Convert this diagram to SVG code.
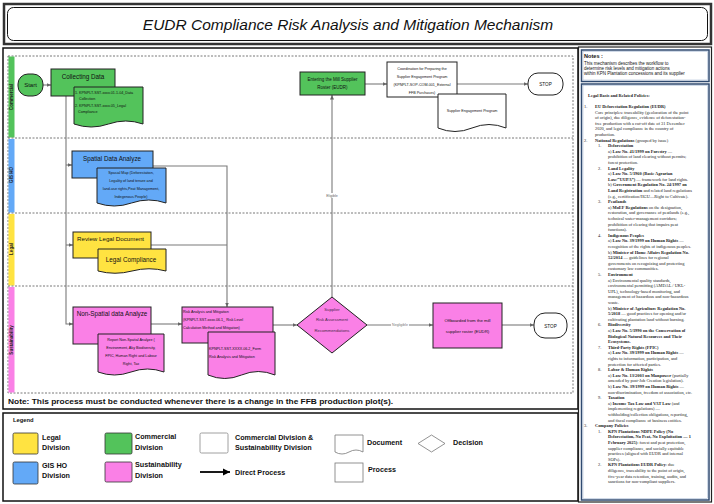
<svg xmlns="http://www.w3.org/2000/svg" width="714" height="504" viewBox="0 0 714 504">
<defs>
<marker id="ah" markerWidth="5" markerHeight="5" refX="4.5" refY="2.5" orient="auto" markerUnits="userSpaceOnUse"><path d="M0,0.5 L4.5,2.5 L0,4.5 Z" fill="#666"/></marker>
<marker id="ahb" markerWidth="8" markerHeight="8" refX="7" refY="4" orient="auto" markerUnits="userSpaceOnUse"><path d="M0,0.5 L7,4 L0,7.5 Z" fill="#000"/></marker>
<style>
.t{font-family:"Liberation Sans",Arial,sans-serif;fill:#111}
.c{text-anchor:middle}
.bx{stroke:#222;stroke-width:1}
.g{fill:#53c35b}.b{fill:#63a9f7}.y{fill:#ffe341}.p{fill:#fa80e6}.w{fill:#fff}
.cn{fill:none;stroke:#7a7a7a;stroke-width:1.1}
.dash{fill:none;stroke:#555;stroke-width:0.8;stroke-dasharray:2 1.5}
.lg{font-family:"Liberation Sans",Arial,sans-serif;font-weight:bold;font-size:7.2px;fill:#111}
.n{font-family:"Liberation Serif","Times New Roman",serif;font-size:4.4px;fill:#222}
.nb{font-weight:bold}
.lane{font-family:"Liberation Sans",Arial,sans-serif;font-weight:bold;font-size:4.5px;fill:#222;text-anchor:middle}
</style>
</defs>

<!-- title -->
<g id="title">
<rect x="4" y="4" width="707" height="40" fill="#fff" stroke="#333" stroke-width="2.5"/>
<rect x="7.5" y="7.5" width="700" height="33" rx="6" fill="#fff" stroke="#111" stroke-width="1"/>
<text x="348" y="30" class="t c" font-size="15.5" font-style="italic">EUDR Compliance Risk Analysis and Mitigation Mechanism</text>
</g>

<!-- main frame and lanes -->
<g id="frame">
<rect x="3" y="48" width="575" height="361" fill="#fff" stroke="#111" stroke-width="1.5"/>
<rect x="8" y="56" width="565" height="337" class="dash"/>
<rect x="8.5" y="56.5" width="6" height="81" fill="#53c35b"/>
<rect x="8.5" y="139" width="6" height="73.5" fill="#63a9f7"/>
<rect x="8.5" y="214" width="6" height="71.5" fill="#ffe341"/>
<rect x="8.5" y="287" width="6" height="105.5" fill="#fa80e6"/>
<line x1="8" y1="138" x2="573" y2="138" class="dash"/>
<line x1="8" y1="213" x2="573" y2="213" class="dash"/>
<line x1="8" y1="286" x2="573" y2="286" class="dash"/>
<text class="lane" transform="translate(13,97) rotate(-90)">Commercial</text>
<text class="lane" transform="translate(13,175) rotate(-90)">GIS HO</text>
<text class="lane" transform="translate(13,249) rotate(-90)">Legal</text>
<text class="lane" transform="translate(13,340) rotate(-90)">Sustainability</text>
<text x="8" y="404" class="t" font-size="7.5" font-weight="bold" textLength="385" lengthAdjust="spacingAndGlyphs">Note: This process must be conducted whenever there is a change in the FFB production plot(s).</text>
</g>

<!-- connectors -->
<g id="connectors">
<line x1="43" y1="85" x2="51" y2="85" class="cn" marker-end="url(#ah)"/>
<path d="M66,96 V324 H73" class="cn" marker-end="url(#ah)"/>
<path d="M66,165 H72" class="cn" marker-end="url(#ah)"/>
<path d="M66,245 H73" class="cn" marker-end="url(#ah)"/>
<path d="M153,166 H227 V307" class="cn" marker-end="url(#ah)"/>
<path d="M151,245 H227" class="cn"/>
<line x1="151" y1="324" x2="182" y2="324" class="cn" marker-end="url(#ah)"/>
<line x1="273" y1="325" x2="297" y2="325" class="cn" marker-end="url(#ah)"/>
<line x1="332" y1="297" x2="332" y2="95" class="cn" marker-end="url(#ah)"/>
<line x1="367" y1="325" x2="433" y2="325" class="cn" marker-end="url(#ah)"/>
<line x1="502" y1="325" x2="534" y2="325" class="cn" marker-end="url(#ah)"/>
<line x1="365" y1="84" x2="387" y2="84" class="cn" marker-end="url(#ah)"/>
<line x1="457" y1="84" x2="528" y2="84" class="cn" marker-end="url(#ah)"/>
<rect x="325" y="193" width="14" height="5" fill="#fff"/>
<text x="332" y="197" class="t c" font-size="3.6" fill="#666" style="fill:#666">Eligible</text>
<rect x="391" y="323" width="18" height="4" fill="#fff"/>
<text x="400" y="326.3" class="t c" font-size="3.6" style="fill:#777">Negligible</text>
</g>

<!-- nodes -->
<g id="start">
<rect x="18" y="74" width="25" height="22" rx="10" class="bx g"/>
<text x="30.5" y="87" class="t c" font-size="6">Start</text>
</g>

<g id="collecting-data">
<rect x="51" y="69" width="64" height="27" class="bx g"/>
<text x="83" y="79" class="t c" font-size="6.3">Collecting Data</text>
</g>
<g id="doc-collecting">
<path d="M74,87 H143 V124 Q125.75,118 108.5,124 T74,124 Z" class="bx g"/>
<text x="75" y="94" class="t" font-size="3.7">1. KPNPLT-SST-xxxx.01.1-04_Data</text>
<text x="79" y="100" class="t" font-size="3.7">Collection</text>
<text x="75" y="107" class="t" font-size="3.7">2. KPNPLT-SST-xxxx.05_Legal</text>
<text x="78" y="113" class="t" font-size="3.7">Compliance</text>
</g>

<g id="spatial-analyze">
<rect x="72" y="151" width="81" height="27" class="bx b"/>
<text x="112" y="161" class="t c" font-size="6.3">Spatial Data Analyze</text>
</g>
<g id="doc-spatial">
<path d="M97,168 H166 V203 Q148.75,197 131.5,203 T97,203 Z" class="bx b"/>
<text x="131" y="173.5" class="t c" font-size="3.7">Spasial Map (Deforestation,</text>
<text x="131" y="181.5" class="t c" font-size="3.7">Legality of land tenure and</text>
<text x="131" y="189.5" class="t c" font-size="3.7">land-use rights,Peat Management,</text>
<text x="131" y="197.5" class="t c" font-size="3.7">Indegenous People)</text>
</g>

<g id="review-legal">
<rect x="73" y="232" width="78" height="26" class="bx y"/>
<text x="77" y="241" class="t" font-size="6.2">Review Legal Document</text>
</g>
<g id="doc-legal">
<path d="M98,249 H166 V271 Q149,266.5 132,271 T98,271 Z" class="bx y"/>
<text x="131" y="262" class="t c" font-size="6.3">Legal Compliance</text>
</g>

<g id="non-spatial">
<rect x="73" y="307" width="78" height="37" class="bx p"/>
<text x="112" y="316" class="t c" font-size="6.3">Non-Spatial data Analyze</text>
</g>
<g id="doc-non-spatial">
<path d="M98,334 H164 V372 Q147.5,366 131,372 T98,372 Z" class="bx p"/>
<text x="131" y="340.5" class="t c" font-size="3.7">Report Non-Spatial Analyze (</text>
<text x="131" y="348.5" class="t c" font-size="3.7">Environment, Aky Biodiversity,</text>
<text x="131" y="356.5" class="t c" font-size="3.7">FPIC, Human Right and Labour</text>
<text x="131" y="364.5" class="t c" font-size="3.7">Right, Tax</text>
</g>

<g id="risk-analysis">
<rect x="182" y="307" width="91" height="36" class="bx p"/>
<text x="183" y="312.5" class="t" font-size="3.7">Risk Analysis and Mitigation</text>
<text x="183" y="320.5" class="t" font-size="3.7">(KPNPLT-SST-xxxx.06.1_ Risk Level</text>
<text x="183" y="328.5" class="t" font-size="3.7">Calculation Method and Mitigation)</text>
</g>
<g id="doc-risk">
<path d="M208,332 H275 V375 Q258.25,368 241.5,375 T208,375 Z" class="bx p"/>
<text x="209" y="350" class="t" font-size="3.7">KPNPLT-SST-XXXX.06.2_Form</text>
<text x="209" y="358" class="t" font-size="3.7">Risk Analysis and Mitigation</text>
</g>

<g id="decision">
<path d="M332,297 L367,325 L332,353 L297,325 Z" class="bx p"/>
<text x="332" y="310.5" class="t c" font-size="4.2" style="fill:#4a2a4a">Supplier</text>
<text x="332" y="321" class="t c" font-size="4.2" style="fill:#4a2a4a">Risk Assessment</text>
<text x="332" y="331.5" class="t c" font-size="4.2" style="fill:#4a2a4a">Recommendations</text>
</g>

<g id="offboarded">
<rect x="433" y="303" width="69" height="45" class="bx p"/>
<text x="467.5" y="322" class="t c" font-size="4.3">Offboarded from the mill</text>
<text x="467.5" y="333" class="t c" font-size="4.3">supplier roster (EUDR)</text>
</g>

<g id="stop-bottom">
<rect x="534" y="313" width="33" height="25" rx="11" class="bx w"/>
<text x="550.5" y="327.5" class="t c" font-size="4.6">STOP</text>
</g>

<g id="entering-roster">
<rect x="300" y="72" width="65" height="23" class="bx g"/>
<text x="332.5" y="80.5" class="t c" font-size="4.5">Entering the Mill Supplier</text>
<text x="332.5" y="89" class="t c" font-size="4.5">Roster (EUDR)</text>
</g>

<g id="coordination">
<rect x="387" y="62" width="70" height="35" class="bx w"/>
<text x="422" y="70" class="t c" font-size="3.7">Coordination for Preparing the</text>
<text x="422" y="78" class="t c" font-size="3.7">Supplier Engagement Program</text>
<text x="422" y="86" class="t c" font-size="3.7">(KPNPLT-SOP-COM-001_External</text>
<text x="422" y="94" class="t c" font-size="3.7">FFB Purchases)</text>
</g>
<g id="doc-engagement">
<path d="M438,94 H506 V128 Q489,121 472,128 T438,128 Z" class="bx w"/>
<text x="472" y="111.5" class="t c" font-size="3.7">Supplier Engagement Program</text>
</g>

<g id="stop-top">
<rect x="528" y="73" width="35" height="22" rx="10" class="bx w"/>
<text x="545.5" y="85.8" class="t c" font-size="4.6">STOP</text>
</g>

<!-- legend -->
<g id="legend">
<rect x="3" y="413" width="575" height="88" fill="#fff" stroke="#111" stroke-width="1.5"/>
<text x="13" y="422" class="t" font-size="5.8" font-weight="bold">Legend</text>
<rect x="13" y="433" width="25" height="21" rx="1.5" fill="#ffe341" stroke="#333" stroke-width="0.8"/>
<text x="42" y="440" class="lg">Legal</text><text x="42" y="450" class="lg">Division</text>
<rect x="13" y="462" width="25" height="22" rx="1.5" fill="#63a9f7" stroke="#333" stroke-width="0.8"/>
<text x="42" y="468" class="lg">GIS HO</text><text x="42" y="478" class="lg">Division</text>
<rect x="105" y="433" width="27" height="21" rx="1.5" fill="#53c35b" stroke="#333" stroke-width="0.8"/>
<text x="135" y="439" class="lg">Commercial</text><text x="135" y="450" class="lg">Division</text>
<rect x="105" y="462" width="27" height="20" rx="1.5" fill="#fa80e6" stroke="#333" stroke-width="0.8"/>
<text x="135" y="467" class="lg">Sustainability</text><text x="135" y="478" class="lg">Division</text>
<rect x="200" y="433" width="28" height="20" rx="1.5" fill="#fff" stroke="#888" stroke-width="0.8"/>
<text x="235" y="440" class="lg">Commercial Division &amp;</text><text x="235" y="450" class="lg">Sustainability Division</text>
<line x1="200" y1="472" x2="230" y2="472" stroke="#000" stroke-width="1.8" marker-end="url(#ahb)"/>
<text x="235" y="474.5" class="lg">Direct Process</text>
<path d="M335,435 H363 V452 Q356,448 349,452 T335,452 Z" fill="#fff" stroke="#777" stroke-width="0.8"/>
<text x="367" y="445" class="lg">Document</text>
<path d="M431.5,435 L445,443.5 L431.5,452 L418,443.5 Z" fill="#fff" stroke="#777" stroke-width="0.8"/>
<text x="453" y="445" class="lg">Decision</text>
<rect x="335" y="463" width="28" height="19" fill="#fff" stroke="#777" stroke-width="0.8"/>
<text x="368" y="472" class="lg">Process</text>
</g>

<!-- notes panel -->
<g id="notes">
<rect x="578.5" y="47" width="133" height="455" fill="#fff" stroke="#222" stroke-width="1.2"/>
<rect x="581.5" y="50" width="127.5" height="31.5" fill="#fff" stroke="#2f4a70" stroke-width="1.5"/>
<rect x="583" y="51.5" width="124.5" height="28.5" fill="none" stroke="#9fb3cf" stroke-width="0.5"/>
<text x="584" y="58" class="t" font-size="5.6" font-weight="bold">Notes :</text>
<text x="584" y="65" class="t" font-size="4.5">This mechanism describes the workflow to</text>
<text x="584" y="70" class="t" font-size="4.5">determine risk levels and mitigation actions</text>
<text x="584" y="75" class="t" font-size="4.5">within KPN Plantation concessions and its supplier</text>
<rect x="581.5" y="84" width="127.5" height="416" fill="#fff" stroke="#2f4a70" stroke-width="1.5"/>
<rect x="583" y="85.5" width="124.5" height="413" fill="none" stroke="#9fb3cf" stroke-width="0.5"/>
<text x="588" y="97" class="n nb" font-size="4.6">Legal Basis and Related Policies:</text>

<text class="n" x="584" y="108">1.</text><text class="n nb" x="595" y="108">EU Deforestation Regulation (EUDR)</text>
<text class="n" x="595" y="113.6">Core principles: traceability (geolocation of the point</text>
<text class="n" x="595" y="119.2">of origin), due diligence, evidence of deforestation-</text>
<text class="n" x="595" y="124.8">free production with a cut-off date of 31 December</text>
<text class="n" x="595" y="130.4">2020, and legal compliance in the country of</text>
<text class="n" x="595" y="136">production.</text>
<text class="n" x="584" y="141.6">2.</text><text class="n" x="595" y="141.6"><tspan class="nb">National Regulations</tspan> (grouped by issue)</text>
<text class="n" x="598" y="147.2">1.</text><text class="n nb" x="608" y="147.2">Deforestation</text>
<text class="n" x="608" y="152.8">a) <tspan class="nb">Law No. 41/1999 on Forestry</tspan> —</text>
<text class="n" x="608" y="158.4">prohibition of land clearing without permits;</text>
<text class="n" x="608" y="164">forest protection.</text>
<text class="n" x="598" y="169.6">2.</text><text class="n nb" x="608" y="169.6">Land Legality</text>
<text class="n" x="608" y="175.2">a) <tspan class="nb">Law No. 5/1960 (Basic Agrarian</tspan></text>
<text class="n" x="608" y="180.8"><tspan class="nb">Law/“UUPA”)</tspan> — framework for land rights.</text>
<text class="n" x="608" y="186.4">b) <tspan class="nb">Government Regulation No. 24/1997 on</tspan></text>
<text class="n" x="608" y="192"><tspan class="nb">Land Registration</tspan> and related land regulations</text>
<text class="n" x="608" y="197.6">(e.g., certification/HGU—Right to Cultivate).</text>
<text class="n" x="598" y="203.2">3.</text><text class="n nb" x="608" y="203.2">Peatlands</text>
<text class="n" x="608" y="208.8">a) <tspan class="nb">MoEF Regulations</tspan> on the designation,</text>
<text class="n" x="608" y="214.4">restoration, and governance of peatlands (e.g.,</text>
<text class="n" x="608" y="220">technical water-management corridors;</text>
<text class="n" x="608" y="225.6">prohibition of clearing that impairs peat</text>
<text class="n" x="608" y="231.2">functions).</text>
<text class="n" x="598" y="236.8">4.</text><text class="n nb" x="608" y="236.8">Indigenous Peoples</text>
<text class="n" x="608" y="242.4">a) <tspan class="nb">Law No. 39/1999 on Human Rights</tspan> —</text>
<text class="n" x="608" y="248">recognition of the rights of indigenous peoples.</text>
<text class="n" x="608" y="253.6">b) <tspan class="nb">Minister of Home Affairs Regulation No.</tspan></text>
<text class="n" x="608" y="259.2"><tspan class="nb">52/2014</tspan> — guidelines for regional</text>
<text class="n" x="608" y="264.8">governments on recognizing and protecting</text>
<text class="n" x="608" y="270.4">customary law communities.</text>
<text class="n" x="598" y="276">5.</text><text class="n nb" x="608" y="276">Environment</text>
<text class="n" x="608" y="281.6">a) Environmental quality standards,</text>
<text class="n" x="608" y="287.2">environmental permitting (AMDAL / UKL-</text>
<text class="n" x="608" y="292.8">UPL), technology-based monitoring, and</text>
<text class="n" x="608" y="298.4">management of hazardous and non-hazardous</text>
<text class="n" x="608" y="304">waste.</text>
<text class="n" x="608" y="309.6">b) <tspan class="nb">Minister of Agriculture Regulation No.</tspan></text>
<text class="n" x="608" y="315.2"><tspan class="nb">5/2018</tspan> — good practices for opening and/or</text>
<text class="n" x="608" y="320.8">cultivating plantation land without burning.</text>
<text class="n" x="598" y="326.4">6.</text><text class="n nb" x="608" y="326.4">Biodiversity</text>
<text class="n" x="608" y="332">a) <tspan class="nb">Law No. 5/1990 on the Conservation of</tspan></text>
<text class="n nb" x="608" y="337.6">Biological Natural Resources and Their</text>
<text class="n nb" x="608" y="343.2">Ecosystems.</text>
<text class="n" x="598" y="348.8">7.</text><text class="n nb" x="608" y="348.8">Third-Party Rights (FPIC)</text>
<text class="n" x="608" y="354.4">a) <tspan class="nb">Law No. 39/1999 on Human Rights</tspan> —</text>
<text class="n" x="608" y="360">rights to information, participation, and</text>
<text class="n" x="608" y="365.6">protection for affected parties.</text>
<text class="n" x="598" y="371.2">8.</text><text class="n nb" x="608" y="371.2">Labor &amp; Human Rights</text>
<text class="n" x="608" y="376.8">a) <tspan class="nb">Law No. 13/2003 on Manpower</tspan> (partially</text>
<text class="n" x="608" y="382.4">amended by post-Job Creation legislation).</text>
<text class="n" x="608" y="388">b) <tspan class="nb">Law No. 39/1999 on Human Rights</tspan> —</text>
<text class="n" x="608" y="393.6">non-discrimination, freedom of association, etc.</text>
<text class="n" x="598" y="399.2">9.</text><text class="n nb" x="608" y="399.2">Taxation</text>
<text class="n" x="608" y="404.8">a) <tspan class="nb">Income Tax Law and VAT Law</tspan> (and</text>
<text class="n" x="608" y="410.4">implementing regulations) —</text>
<text class="n" x="608" y="416">withholding/collection obligations, reporting,</text>
<text class="n" x="608" y="421.6">and fiscal compliance of business entities.</text>
<text class="n" x="584" y="427.2">3.</text><text class="n nb" x="595" y="427.2">Company Policies</text>
<text class="n" x="598" y="432.8">1.</text><text class="n nb" x="608" y="432.8">KPN Plantations NDPE Policy (No</text>
<text class="n nb" x="608" y="438.4">Deforestation, No Peat, No Exploitation — 1</text>
<text class="n" x="608" y="444"><tspan class="nb">February 2025)</tspan>: forest and peat protection,</text>
<text class="n" x="608" y="449.6">supplier compliance, and socially equitable</text>
<text class="n" x="608" y="455.2">practices (aligned with EUDR and internal</text>
<text class="n" x="608" y="460.8">SOPs).</text>
<text class="n" x="598" y="466.4">2.</text><text class="n" x="608" y="466.4"><tspan class="nb">KPN Plantations EUDR Policy</tspan>: due</text>
<text class="n" x="608" y="472">diligence, traceability to the point of origin,</text>
<text class="n" x="608" y="477.6">five-year data retention, training, audits, and</text>
<text class="n" x="608" y="483.2">sanctions for non-compliant suppliers.</text>
</g>
</svg>
